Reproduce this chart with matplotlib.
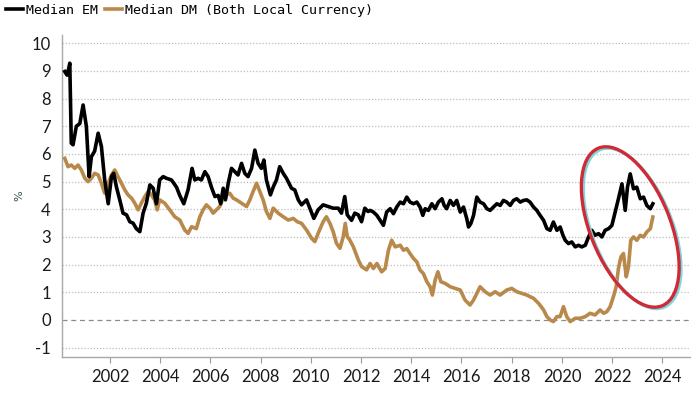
import matplotlib
matplotlib.use("Agg")
import matplotlib.pyplot as plt
from matplotlib.patches import Ellipse
from matplotlib.transforms import IdentityTransform
from matplotlib.lines import Line2D

# ---------------- data ----------------
em_years = [2000.20, 2000.29, 2000.36, 2000.40, 2000.46, 2000.53, 2000.66, 2000.80, 2000.93, 2001.06,
            2001.17, 2001.26, 2001.39, 2001.53, 2001.66, 2001.79, 2001.93, 2002.06, 2002.15, 2002.26,
            2002.39, 2002.52, 2002.66, 2002.79, 2002.92, 2003.05, 2003.19, 2003.32, 2003.45, 2003.59,
            2003.72, 2003.85, 2003.98, 2004.12, 2004.25, 2004.45, 2004.65, 2004.78, 2004.94, 2005.11,
            2005.27, 2005.38, 2005.51, 2005.64, 2005.78, 2005.91, 2006.04, 2006.18, 2006.31, 2006.41,
            2006.51, 2006.60, 2006.71, 2006.84, 2006.97, 2007.10, 2007.24, 2007.37, 2007.50, 2007.64,
            2007.77, 2007.90, 2008.03, 2008.13, 2008.23, 2008.39, 2008.50, 2008.63, 2008.76, 2008.90,
            2009.03, 2009.23, 2009.36, 2009.50, 2009.63, 2009.83, 2009.96, 2010.12, 2010.29, 2010.49,
            2010.69, 2010.89, 2011.09, 2011.22, 2011.35, 2011.45, 2011.62, 2011.75, 2011.89, 2012.02,
            2012.15, 2012.28, 2012.36, 2012.49, 2012.63, 2012.76, 2012.89, 2013.02, 2013.16, 2013.29,
            2013.42, 2013.56, 2013.69, 2013.82, 2013.95, 2014.09, 2014.22, 2014.35, 2014.46, 2014.55,
            2014.68, 2014.82, 2014.95, 2015.08, 2015.22, 2015.31, 2015.41, 2015.55, 2015.68, 2015.81,
            2015.95, 2016.08, 2016.21, 2016.28, 2016.37, 2016.48, 2016.61, 2016.74, 2016.88, 2017.01,
            2017.14, 2017.27, 2017.41, 2017.54, 2017.67, 2017.80, 2017.94, 2018.07, 2018.20, 2018.34,
            2018.47, 2018.60, 2018.73, 2018.87, 2019.00, 2019.13, 2019.27, 2019.40, 2019.53, 2019.66,
            2019.80, 2019.93, 2020.04, 2020.13, 2020.26, 2020.39, 2020.53, 2020.66, 2020.79, 2020.93,
            2021.06, 2021.19, 2021.32, 2021.46, 2021.59, 2021.72, 2021.86, 2021.99, 2022.12, 2022.25,
            2022.39, 2022.52, 2022.61, 2022.72, 2022.85, 2022.98, 2023.12, 2023.25, 2023.38, 2023.52,
            2023.62]
em_values = [8.98, 8.85, 9.10, 9.28, 6.39, 6.33, 7.00, 7.10, 7.77, 7.00,
             5.18, 5.90, 6.10, 6.75, 6.27, 5.06, 4.20, 5.18, 5.30, 4.80,
             4.34, 3.86, 3.80, 3.55, 3.50, 3.30, 3.19, 3.86, 4.22, 4.88,
             4.76, 4.20, 5.06, 5.18, 5.12, 5.06, 4.80, 4.50, 4.20, 4.70,
             5.48, 5.06, 5.12, 5.06, 5.36, 5.18, 4.80, 4.46, 4.50, 4.20,
             4.76, 4.34, 4.94, 5.48, 5.36, 5.24, 5.66, 5.30, 5.18, 5.48,
             6.14, 5.66, 5.48, 5.78, 5.06, 4.52, 4.80, 5.06, 5.54, 5.30,
             5.12, 4.76, 4.70, 4.34, 4.16, 4.34, 4.04, 3.67, 3.98, 4.16,
             4.10, 4.04, 4.04, 3.86, 4.46, 3.80, 3.60, 3.86, 3.80, 3.55,
             4.04, 3.92, 3.96, 3.90, 3.78, 3.60, 3.42, 3.90, 4.02, 3.84,
             4.08, 4.26, 4.20, 4.44, 4.26, 4.20, 4.26, 4.08, 3.78, 4.02,
             3.96, 4.20, 4.02, 4.26, 4.38, 4.14, 4.02, 4.32, 4.14, 4.32,
             3.90, 4.08, 3.66, 3.36, 3.48, 3.78, 4.44, 4.26, 4.20, 4.02,
             3.96, 4.08, 4.20, 4.14, 4.32, 4.26, 4.14, 4.32, 4.38, 4.26,
             4.32, 4.34, 4.26, 4.08, 3.96, 3.78, 3.60, 3.30, 3.24, 3.54,
             3.24, 3.36, 3.06, 2.88, 2.76, 2.82, 2.64, 2.70, 2.64, 2.70,
             3.00, 3.24, 3.06, 3.12, 3.00, 3.24, 3.30, 3.42, 3.90, 4.38,
             4.92, 3.96, 4.80, 5.28, 4.74, 4.80, 4.38, 4.44, 4.14, 4.02,
             4.20]

dm_years = [2000.20, 2000.33, 2000.46, 2000.60, 2000.73, 2000.86, 2001.00, 2001.13, 2001.26, 2001.39,
            2001.53, 2001.66, 2001.79, 2001.93, 2002.06, 2002.19, 2002.32, 2002.46, 2002.59, 2002.72,
            2002.86, 2002.99, 2003.12, 2003.25, 2003.39, 2003.52, 2003.65, 2003.78, 2003.88, 2003.98,
            2004.18, 2004.38, 2004.58, 2004.78, 2004.98, 2005.11, 2005.25, 2005.44, 2005.58, 2005.71,
            2005.84, 2005.98, 2006.11, 2006.24, 2006.37, 2006.51, 2006.64, 2006.77, 2006.91, 2007.04,
            2007.24, 2007.44, 2007.57, 2007.70, 2007.84, 2007.97, 2008.10, 2008.23, 2008.37, 2008.50,
            2008.70, 2008.90, 2009.10, 2009.30, 2009.46, 2009.63, 2009.83, 2010.03, 2010.16, 2010.29,
            2010.49, 2010.62, 2010.76, 2010.89, 2011.02, 2011.16, 2011.29, 2011.37, 2011.45, 2011.55,
            2011.69, 2011.89, 2012.02, 2012.22, 2012.36, 2012.49, 2012.63, 2012.82, 2012.96, 2013.09,
            2013.22, 2013.36, 2013.56, 2013.69, 2013.82, 2013.95, 2014.09, 2014.22, 2014.35, 2014.48,
            2014.62, 2014.75, 2014.84, 2014.95, 2015.06, 2015.18, 2015.35, 2015.55, 2015.75, 2015.95,
            2016.14, 2016.34, 2016.48, 2016.61, 2016.74, 2016.94, 2017.14, 2017.34, 2017.54, 2017.80,
            2018.00, 2018.20, 2018.40, 2018.60, 2018.87, 2019.07, 2019.27, 2019.40, 2019.53, 2019.66,
            2019.80, 2019.93, 2020.06, 2020.19, 2020.33, 2020.53, 2020.73, 2020.93, 2021.12, 2021.32,
            2021.52, 2021.66, 2021.79, 2021.92, 2022.05, 2022.16, 2022.25, 2022.35, 2022.45, 2022.56,
            2022.65, 2022.74, 2022.85, 2022.98, 2023.12, 2023.25, 2023.38, 2023.52, 2023.62]
dm_values = [5.84, 5.54, 5.60, 5.48, 5.60, 5.42, 5.12, 5.00, 5.12, 5.30,
             5.24, 4.94, 4.58, 4.94, 5.24, 5.42, 5.18, 4.94, 4.70, 4.52,
             4.40, 4.22, 3.98, 4.22, 4.46, 4.64, 4.52, 4.34, 3.98, 4.34,
             4.22, 3.98, 3.73, 3.61, 3.25, 3.13, 3.37, 3.30, 3.73, 3.98,
             4.16, 4.04, 3.86, 3.98, 4.10, 4.40, 4.52, 4.58, 4.40, 4.34,
             4.22, 4.10, 4.34, 4.64, 4.94, 4.64, 4.34, 3.92, 3.67, 4.04,
             3.86, 3.73, 3.61, 3.67, 3.55, 3.49, 3.25, 2.95, 2.83, 3.13,
             3.55, 3.73, 3.49, 3.19, 2.77, 2.59, 3.01, 3.49, 3.01, 2.89,
             2.65, 2.17, 1.93, 1.81, 2.04, 1.86, 2.04, 1.74, 1.86, 2.52,
             2.88, 2.64, 2.70, 2.52, 2.58, 2.40, 2.22, 2.10, 1.80, 1.68,
             1.38, 1.20, 0.90, 1.44, 1.74, 1.38, 1.32, 1.20, 1.14, 1.08,
             0.72, 0.54, 0.72, 0.96, 1.20, 1.02, 0.90, 1.02, 0.90, 1.08,
             1.14, 1.02, 0.96, 0.90, 0.78, 0.60, 0.36, 0.12, 0.00, -0.06,
             0.12, 0.12, 0.48, 0.12, -0.06, 0.06, 0.06, 0.12, 0.24, 0.18,
             0.36, 0.24, 0.30, 0.48, 0.84, 1.20, 1.86, 2.28, 2.40, 1.56,
             1.92, 2.88, 3.00, 2.88, 3.06, 3.00, 3.18, 3.30, 3.72]

y_ticks = list(range(-1, 11))
x_ticks = list(range(2002, 2025, 2))
x_tick_labels = [str(y) for y in x_ticks]
legend_labels = ["Median EM", "Median DM (Both Local Currency)"]

EM_COLOR = "#000000"
DM_COLOR = "#b8894b"
GRID_COLOR = "#bdbdbd"
TEXT_COLOR = "#1a1a1a"

# ---------------- figure ----------------
fig = plt.figure(figsize=(7.0, 3.94), dpi=100)
ax = fig.add_axes([62 / 700, 37 / 394, (690 - 62) / 700, (357 - 35) / 394])

ax.set_xlim(2000.09, 2025.1)
ax.set_ylim(-1.34, 10.3)

for yv in y_ticks:
    if yv == 0:
        ax.axhline(yv, color="#8c8c8c", lw=0.9, ls=(0, (4, 3)), zorder=1)
    else:
        ax.axhline(yv, color=GRID_COLOR, lw=0.9, ls=(0, (1, 1.5)), zorder=1)

ax.plot(dm_years, dm_values, color=DM_COLOR, lw=2.6, zorder=3, solid_joinstyle="round")
ax.plot(em_years, em_values, color=EM_COLOR, lw=2.6, zorder=4, solid_joinstyle="round")

ax.set_yticks(y_ticks)
ax.set_yticklabels([str(v) for v in y_ticks], fontfamily="Lato", fontsize=12, color=TEXT_COLOR)
ax.set_xticks(x_ticks)
ax.set_xticklabels(x_tick_labels, fontfamily="Lato", fontsize=12, color=TEXT_COLOR)
ax.tick_params(axis="y", length=0, pad=8)
ax.tick_params(axis="x", length=4, width=0.8, color="#9a9a9a", pad=5, direction="out")

for s in ["top", "right"]:
    ax.spines[s].set_visible(False)
for s in ["left", "bottom"]:
    ax.spines[s].set_color("#a8a8a8")
    ax.spines[s].set_linewidth(1.0)

ax.set_ylabel("%", fontsize=8, color="#2f4f4f", labelpad=5)

# legend (top-left, outside the axes)
handles = [Line2D([0], [0], color=EM_COLOR, lw=2.6), Line2D([0], [0], color=DM_COLOR, lw=2.6)]
fig.legend(handles, legend_labels, loc="upper left", bbox_to_anchor=(-0.003, 1.01), ncol=2,
           frameon=False, handlelength=1.3, handletextpad=0.2, columnspacing=0.5,
           borderaxespad=0.2, prop={"family": "DejaVu Sans Mono", "size": 9.6})

# highlight ellipse around the recent period
fig.canvas.draw()
cx, cy = ax.transData.transform((2022.72, 3.36))
glow = Ellipse((cx + 2, cy - 1.5), 80, 170, angle=22, fill=False, ec="#7fd6dc", lw=2.2,
               transform=IdentityTransform(), zorder=5)
ring = Ellipse((cx, cy), 80, 170, angle=22, fill=False, ec="#cf2a36", lw=2.4,
               transform=IdentityTransform(), zorder=6)
fig.add_artist(glow)
fig.add_artist(ring)

fig.savefig("out.png", dpi=100)
